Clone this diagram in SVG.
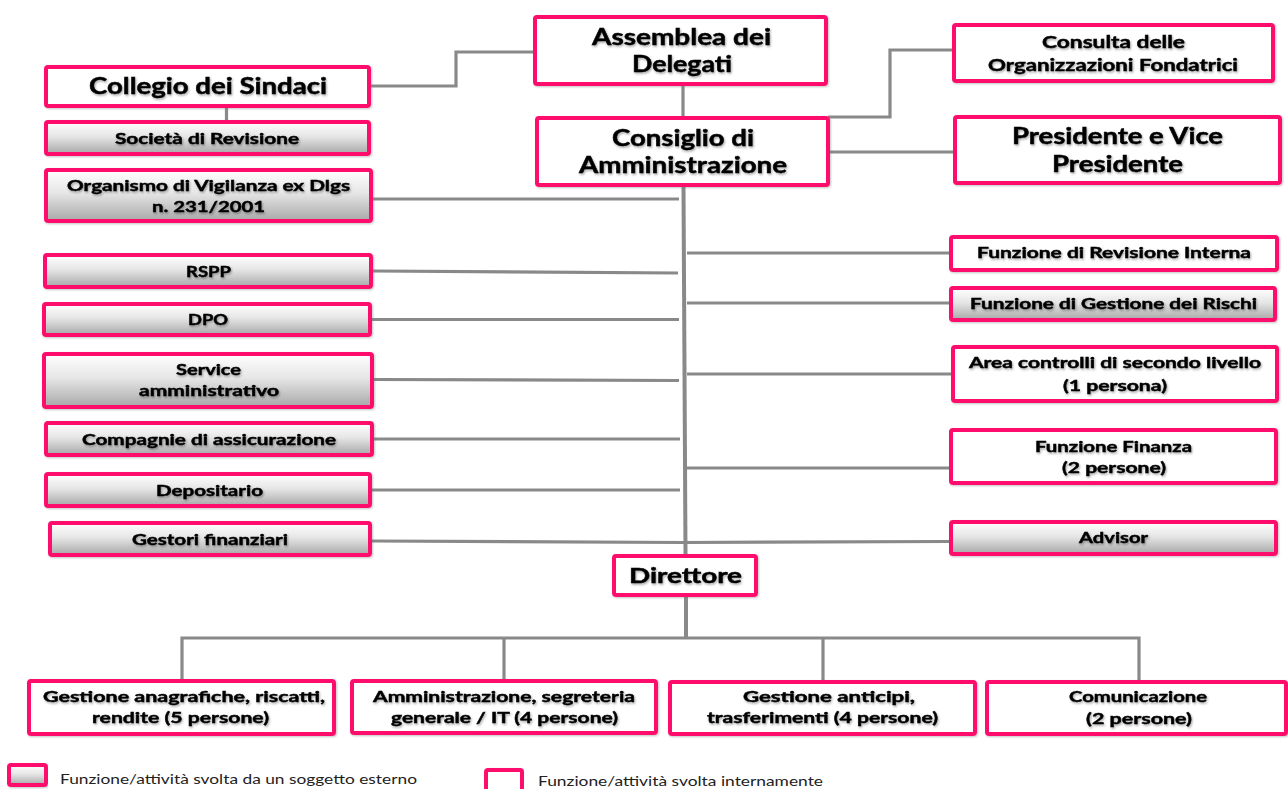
<svg xmlns="http://www.w3.org/2000/svg" width="1288" height="789" viewBox="0 0 1288 789">
<defs>
<linearGradient id="ext" x1="0" y1="0" x2="0" y2="1">
<stop offset="0" stop-color="#ffffff"/>
<stop offset="0.45" stop-color="#e6e6e6"/>
<stop offset="1" stop-color="#a8a8a8"/>
</linearGradient>
<filter id="ts" x="-5%" y="-20%" width="110%" height="150%">
<feDropShadow dx="1" dy="1.5" stdDeviation="0.9" flood-color="#000" flood-opacity="0.35"/>
</filter>
<filter id="bs" x="-5%" y="-10%" width="110%" height="130%">
<feDropShadow dx="1" dy="1" stdDeviation="1" flood-color="#777" flood-opacity="0.45"/>
</filter>
</defs>
<style>
.box{stroke:#ff0a6c;stroke-width:4;fill:#ffffff;filter:url(#bs)}
.ext{fill:url(#ext)}
.t{font-family:Lato,"Liberation Sans",sans-serif;font-weight:bold;fill:#000;stroke:#000;stroke-width:0.45;text-anchor:middle;filter:url(#ts)}
.xl{font-size:22px}
.md{font-size:17px}
.sm{font-size:16px}
.lg{font-family:Lato,"Liberation Sans",sans-serif;font-size:13.5px;fill:#222}
.c{fill:none;stroke:#898989;stroke-width:3.2;stroke-linejoin:miter}
.sp{stroke-width:4}
</style>
<rect width="1288" height="789" fill="#ffffff"/>

<g id="connectors">
<polyline class="c" points="371,86 456,86 456,52 533,52"/>
<line class="c" x1="226.5" y1="108" x2="226.5" y2="120"/>
<line class="c" x1="683" y1="86" x2="683" y2="116"/>
<polyline class="c" points="828,117 890,117 890,50 952,50"/>
<line class="c" x1="830" y1="152" x2="953" y2="152"/>
<line class="c sp" x1="683.5" y1="187" x2="685.5" y2="554"/>
<line class="c" x1="373" y1="199" x2="679" y2="199"/>
<line class="c" x1="373" y1="271" x2="678" y2="273"/>
<line class="c" x1="372" y1="319.5" x2="679" y2="319.5"/>
<line class="c" x1="374" y1="379.5" x2="679" y2="380.5"/>
<line class="c" x1="374" y1="439" x2="680" y2="439"/>
<line class="c" x1="372" y1="490" x2="680" y2="490"/>
<line class="c" x1="372" y1="541" x2="683" y2="542.5"/>
<line class="c" x1="687" y1="253" x2="949" y2="253"/>
<line class="c" x1="687" y1="303" x2="949" y2="303"/>
<line class="c" x1="687" y1="374" x2="951" y2="374"/>
<line class="c" x1="687" y1="468" x2="949" y2="468"/>
<line class="c" x1="683" y1="542.5" x2="949" y2="541.5"/>
<line class="c sp" x1="686" y1="597" x2="686" y2="638"/>
<polyline class="c" points="182,679 182,638 1139,638 1139,680"/>
<line class="c" x1="504" y1="638" x2="504" y2="679"/>
<line class="c" x1="823" y1="638" x2="823" y2="680"/>
</g>

<g id="assemblea">
<rect class="box" x="535" y="17" width="291" height="67" rx="2"/>
<text class="t xl" x="681.5" y="45" textLength="179" lengthAdjust="spacingAndGlyphs">Assemblea dei</text>
<text class="t xl" x="682" y="72" textLength="100" lengthAdjust="spacingAndGlyphs">Delegati</text>
</g>
<g id="consiglio">
<rect class="box" x="537" y="118" width="291" height="67" rx="2"/>
<text class="t xl" x="683" y="146" textLength="142" lengthAdjust="spacingAndGlyphs">Consiglio di</text>
<text class="t xl" x="683" y="173" textLength="208" lengthAdjust="spacingAndGlyphs">Amministrazione</text>
</g>
<g id="consulta">
<rect class="box" x="954" y="25" width="319" height="56" rx="2"/>
<text class="t md" x="1113.5" y="48" textLength="143" lengthAdjust="spacingAndGlyphs">Consulta delle</text>
<text class="t md" x="1113" y="71" textLength="250" lengthAdjust="spacingAndGlyphs">Organizzazioni Fondatrici</text>
</g>
<g id="presidente">
<rect class="box" x="955" y="117" width="325" height="66" rx="2"/>
<text class="t xl" x="1117.5" y="144" textLength="211" lengthAdjust="spacingAndGlyphs">Presidente e Vice</text>
<text class="t xl" x="1117.5" y="172" textLength="131" lengthAdjust="spacingAndGlyphs">Presidente</text>
</g>
<g id="collegio">
<rect class="box" x="46" y="67" width="323" height="39" rx="2"/>
<text class="t xl" x="208" y="94" textLength="238" lengthAdjust="spacingAndGlyphs">Collegio dei Sindaci</text>
</g>
<g id="societa">
<rect class="box ext" x="46" y="122" width="323" height="32" rx="2"/>
<text class="t sm" x="207" y="144" textLength="184" lengthAdjust="spacingAndGlyphs">Società di Revisione</text>
</g>
<g id="organismo">
<rect class="box ext" x="46" y="170" width="325" height="51" rx="2"/>
<text class="t sm" x="208.5" y="191" textLength="283" lengthAdjust="spacingAndGlyphs">Organismo di Vigilanza ex Dlgs</text>
<text class="t sm" x="208.5" y="212" textLength="113" lengthAdjust="spacingAndGlyphs">n. 231/2001</text>
</g>
<g id="rspp">
<rect class="box ext" x="45" y="255" width="326" height="32" rx="2"/>
<text class="t sm" x="208.5" y="277" textLength="45" lengthAdjust="spacingAndGlyphs">RSPP</text>
</g>
<g id="dpo">
<rect class="box ext" x="44" y="304" width="326" height="31" rx="2"/>
<text class="t sm" x="208" y="325" textLength="40" lengthAdjust="spacingAndGlyphs">DPO</text>
</g>
<g id="service">
<rect class="box ext" x="44" y="354" width="328" height="53" rx="2"/>
<text class="t sm" x="208.5" y="375" textLength="65" lengthAdjust="spacingAndGlyphs">Service</text>
<text class="t sm" x="209" y="396" textLength="140" lengthAdjust="spacingAndGlyphs">amministrativo</text>
</g>
<g id="compagnie">
<rect class="box ext" x="46" y="423" width="326" height="32" rx="2"/>
<text class="t sm" x="209" y="445" textLength="254" lengthAdjust="spacingAndGlyphs">Compagnie di assicurazione</text>
</g>
<g id="depositario">
<rect class="box ext" x="46" y="474" width="324" height="32" rx="2"/>
<text class="t sm" x="209.5" y="496" textLength="107" lengthAdjust="spacingAndGlyphs">Depositario</text>
</g>
<g id="gestori">
<rect class="box ext" x="50" y="523" width="320" height="32" rx="2"/>
<text class="t sm" x="210" y="545" textLength="156" lengthAdjust="spacingAndGlyphs">Gestori finanziari</text>
</g>
<g id="revisione-interna">
<rect class="box" x="951" y="237" width="326" height="33" rx="2"/>
<text class="t sm" x="1114" y="258" textLength="274" lengthAdjust="spacingAndGlyphs">Funzione di Revisione Interna</text>
</g>
<g id="gestione-rischi">
<rect class="box ext" x="951" y="288" width="324" height="32" rx="2"/>
<text class="t sm" x="1113.5" y="309" textLength="287" lengthAdjust="spacingAndGlyphs">Funzione di Gestione dei Rischi</text>
</g>
<g id="area-controlli">
<rect class="box" x="953" y="347" width="324" height="54" rx="2"/>
<text class="t sm" x="1115" y="368" textLength="292" lengthAdjust="spacingAndGlyphs">Area controlli di secondo livello</text>
<text class="t sm" x="1115" y="391" textLength="104" lengthAdjust="spacingAndGlyphs">(1 persona)</text>
</g>
<g id="finanza">
<rect class="box" x="951" y="430" width="325" height="53" rx="2"/>
<text class="t sm" x="1113.5" y="452" textLength="157" lengthAdjust="spacingAndGlyphs">Funzione Finanza</text>
<text class="t sm" x="1114" y="473" textLength="104" lengthAdjust="spacingAndGlyphs">(2 persone)</text>
</g>
<g id="advisor">
<rect class="box ext" x="951" y="522" width="325" height="32" rx="2"/>
<text class="t sm" x="1113.5" y="543" textLength="69" lengthAdjust="spacingAndGlyphs">Advisor</text>
</g>
<g id="direttore">
<rect class="box" x="614" y="556" width="142" height="39" rx="2"/>
<text class="t" style="font-size:20px" x="685.5" y="583" textLength="113" lengthAdjust="spacingAndGlyphs">Direttore</text>
</g>
<g id="anagrafiche">
<rect class="box" x="29" y="681" width="305" height="53" rx="2"/>
<text class="t sm" x="184" y="702" textLength="282" lengthAdjust="spacingAndGlyphs">Gestione anagrafiche, riscatti,</text>
<text class="t sm" x="180.5" y="723" textLength="177" lengthAdjust="spacingAndGlyphs">rendite (5 persone)</text>
</g>
<g id="amministrazione">
<rect class="box" x="352" y="681" width="304" height="52" rx="2"/>
<text class="t sm" x="504" y="702" textLength="262" lengthAdjust="spacingAndGlyphs">Amministrazione, segreteria</text>
<text class="t sm" x="504.5" y="723" textLength="227" lengthAdjust="spacingAndGlyphs">generale / IT (4 persone)</text>
</g>
<g id="anticipi">
<rect class="box" x="670" y="682" width="305" height="52" rx="2"/>
<text class="t sm" x="829" y="702" textLength="172" lengthAdjust="spacingAndGlyphs">Gestione anticipi,</text>
<text class="t sm" x="822.5" y="723" textLength="231" lengthAdjust="spacingAndGlyphs">trasferimenti (4 persone)</text>
</g>
<g id="comunicazione">
<rect class="box" x="987" y="682" width="299" height="52" rx="2"/>
<text class="t sm" x="1138" y="702" textLength="138" lengthAdjust="spacingAndGlyphs">Comunicazione</text>
<text class="t sm" x="1139" y="724" textLength="106" lengthAdjust="spacingAndGlyphs">(2 persone)</text>
</g>

<g id="legend">
<rect class="box ext" x="9" y="765" width="37" height="20" rx="2"/>
<text class="lg" x="60" y="784" textLength="357" lengthAdjust="spacingAndGlyphs">Funzione/attività svolta da un soggetto esterno</text>
<rect class="box" x="486" y="770" width="36" height="22" rx="2"/>
<text class="lg" x="538" y="786" textLength="285" lengthAdjust="spacingAndGlyphs">Funzione/attività svolta internamente</text>
</g>
</svg>
